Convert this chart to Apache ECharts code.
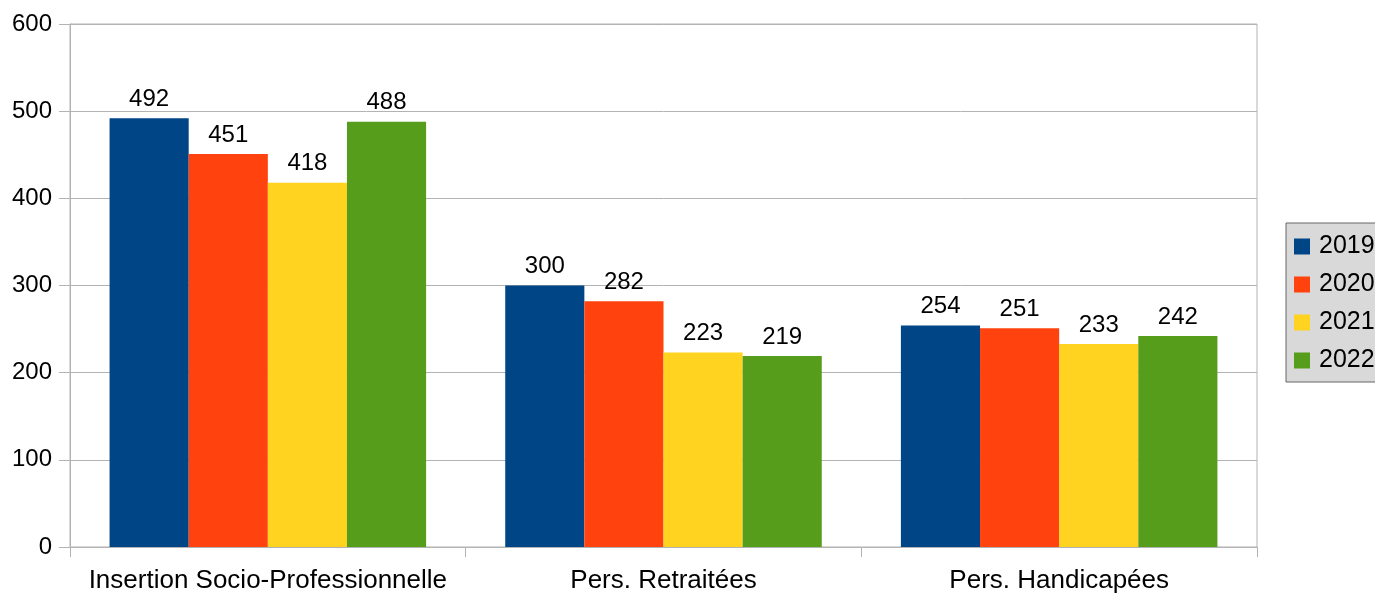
<!DOCTYPE html>
<html>
<head>
    <meta charset="utf-8">
    <title>ECharts</title>
    <script src="https://cdn.jsdelivr.net/npm/echarts@6/dist/echarts.min.js"></script>
    <style>
        html, body { margin: 0; padding: 0; background: #fff; }
    </style>
</head>
<body>
    <div id="main" style="width: 1375px;height:595px;"></div>
    <script type="text/javascript">
    var myChart = echarts.init(document.getElementById('main'));

    // categories and yearly values
    var categories = ['Insertion Socio-Professionnelle', 'Pers. Retraitées', 'Pers. Handicapées'];
    var years = ['2019', '2020', '2021', '2022'];
    var v2019 = [492, 300, 254];
    var v2020 = [451, 282, 251];
    var v2021 = [418, 223, 233];
    var v2022 = [488, 219, 242];
    var colors = ['#004586', '#ff420e', '#ffd320', '#579d1c'];

    var values = [v2019, v2020, v2021, v2022];
    var font = 'Liberation Sans';

    var series = years.map(function (y, i) {
        return {
            name: y,
            type: 'bar',
            data: values[i],
            barGap: 0,
            barCategoryGap: '20%',
            itemStyle: { color: colors[i] },
            label: {
                show: true,
                position: 'top',
                distance: 7,
                color: '#000',
                fontFamily: font,
                fontSize: 24
            }
        };
    });

    var option = {
        animation: false,
        textStyle: { fontFamily: font },
        grid: {
            left: 70,
            right: 118,
            top: 24,
            bottom: 48,
            show: true,
            borderColor: '#b3b3b3',
            borderWidth: 1
        },
        legend: {
            data: years,
            orient: 'vertical',
            left: 1286,
            top: 223,
            padding: [11, 30, 9, 8],
            backgroundColor: '#d9d9d9',
            borderColor: '#666',
            borderWidth: 1,
            itemWidth: 16,
            itemHeight: 16,
            itemGap: 13,
            icon: 'rect',
            textStyle: {
                color: '#000',
                fontFamily: font,
                fontSize: 25,
                padding: [0, 0, 0, 4]
            }
        },
        xAxis: {
            type: 'category',
            data: categories,
            axisLine: { lineStyle: { color: '#b3b3b3' } },
            axisTick: { show: true, interval: 0, length: 10, lineStyle: { color: '#b3b3b3' } },
            axisLabel: {
                interval: 0,
                color: '#000',
                fontFamily: font,
                fontSize: 26,
                margin: 21
            }
        },
        yAxis: {
            type: 'value',
            min: 0,
            max: 600,
            interval: 100,
            axisLine: { show: true, lineStyle: { color: '#b3b3b3' } },
            axisTick: { show: true, length: 11, lineStyle: { color: '#b3b3b3' } },
            splitLine: { lineStyle: { color: '#b3b3b3' } },
            axisLabel: {
                color: '#000',
                fontFamily: font,
                fontSize: 24,
                margin: 18
            }
        },
        series: series
    };

    myChart.setOption(option);
    </script>
</body>
</html>
